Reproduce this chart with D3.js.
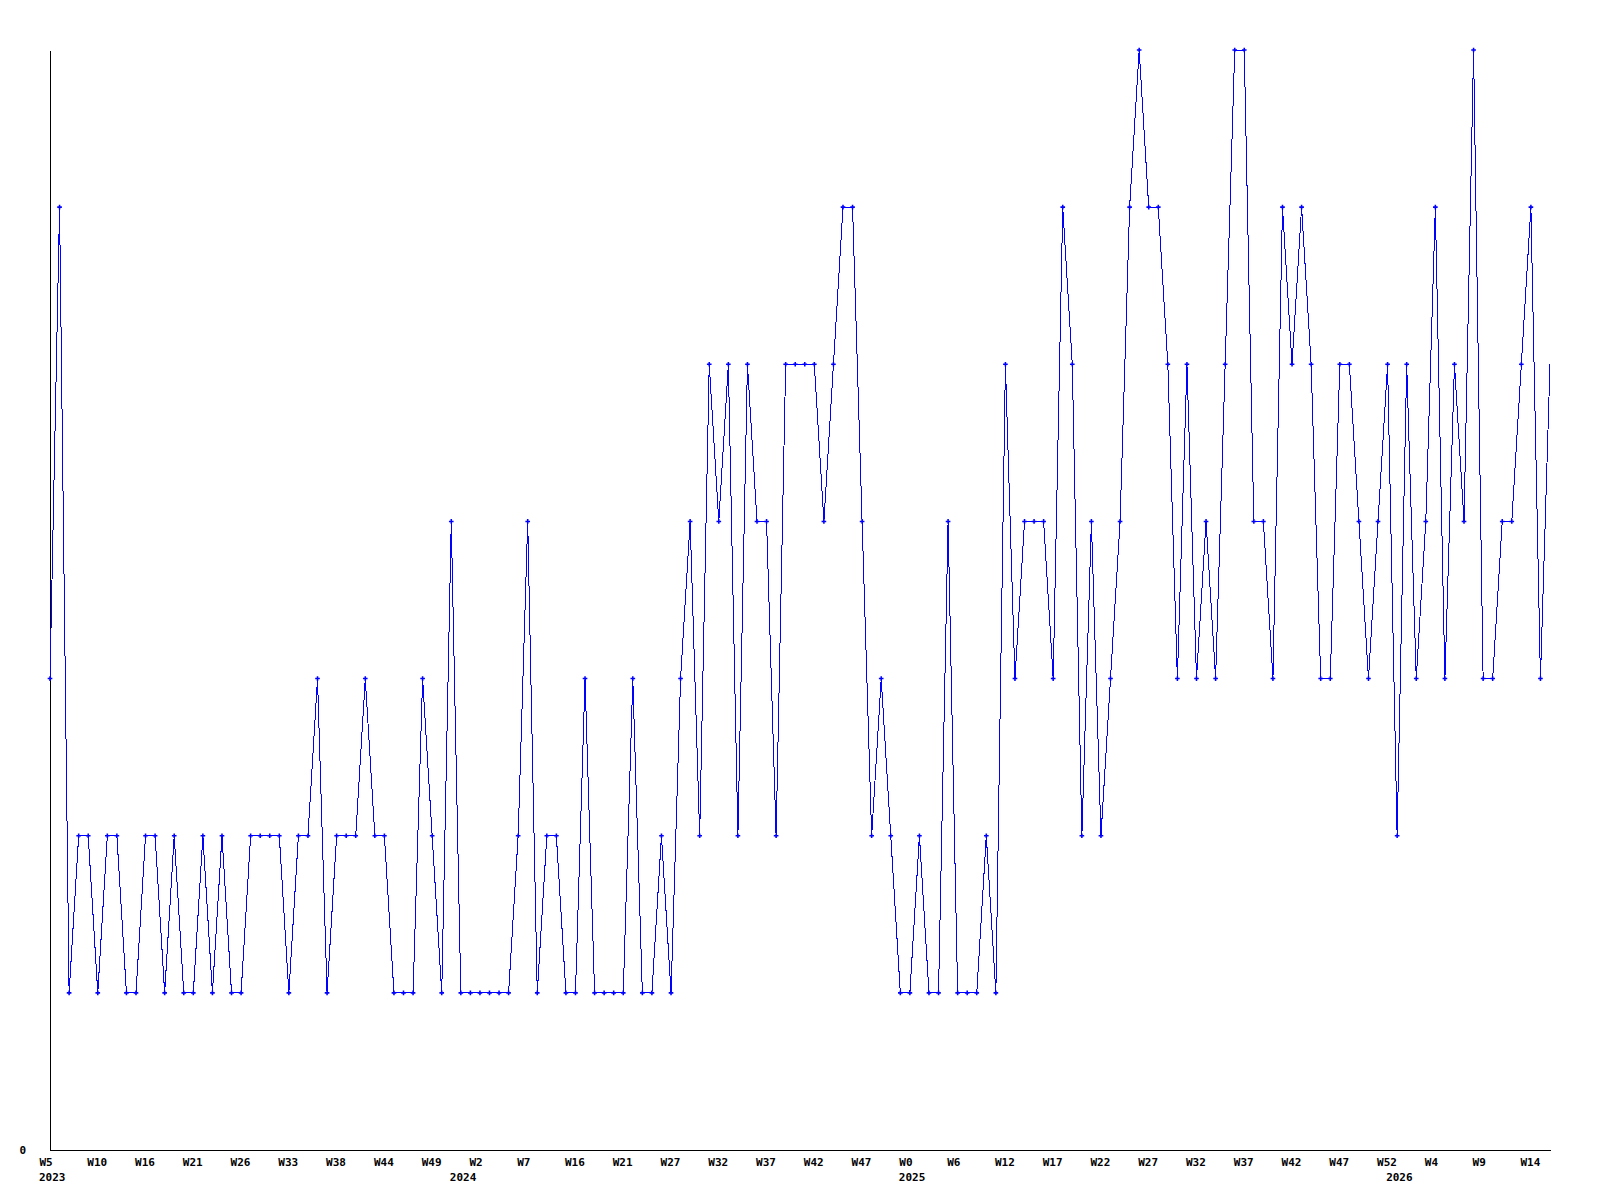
<!DOCTYPE html>
<html>
<head>
<meta charset="utf-8">
<script src="https://cdn.jsdelivr.net/npm/d3@7"></script>
<style>
    body { margin: 0; background: #fff; }
    .lbl { font-family: "DejaVu Sans Mono", monospace; font-size: 11px; font-weight: bold; fill: #000; }
</style>
</head>
<body>
<svg id="chart"></svg>
<script>
// week numbers that have a value, per year
const weeks2023 = [5, 6, 7, 8, 9, 10, 12, 13, 14, 15, 16, 17, 18, 19, 20, 21, 22, 23, 24, 25, 26, 27, 28, 31, 32, 33, 34, 35, 36, 37, 38, 39, 40, 42, 43, 44, 45, 46, 47, 48, 49, 50, 52]
const weeks2024 = [0, 1, 2, 3, 4, 5, 6, 7, 8, 9, 14, 15, 16, 17, 18, 19, 20, 21, 22, 23, 25, 26, 27, 28, 29, 30, 31, 32, 33, 34, 35, 36, 37, 38, 39, 40, 41, 42, 43, 44, 45, 46, 47, 48, 49, 50, 52]
const weeks2025 = [0, 1, 2, 3, 5, 6, 7, 8, 9, 11, 12, 13, 14, 15, 16, 17, 18, 19, 20, 21, 22, 23, 24, 25, 26, 27, 28, 29, 30, 31, 32, 33, 34, 35, 36, 37, 38, 39, 40, 41, 42, 43, 44, 45, 46, 47, 48, 49, 50, 51, 52]
const weeks2026 = [0, 1, 2, 3, 4, 5, 6, 7, 8, 9, 10, 11, 12, 13, 14, 15, 16]
const years = [2023, 2024, 2025, 2026]

// weekly counts, same order as the weeks above
const values = [
    3, 6, 1, 2, 2, 1, 2, 2, 1, 1, 2, 2, 1, 2, 1, 1, 2, 1, 2, 1,
    1, 2, 2, 2, 2, 1, 2, 2, 3, 1, 2, 2, 2, 3, 2, 2, 1, 1, 1, 3,
    2, 1, 4, 1, 1, 1, 1, 1, 1, 2, 4, 1, 2, 2, 1, 1, 3, 1, 1, 1,
    1, 3, 1, 1, 2, 1, 3, 4, 2, 5, 4, 5, 2, 5, 4, 4, 2, 5, 5, 5,
    5, 4, 5, 6, 6, 4, 2, 3, 2, 1, 1, 2, 1, 1, 4, 1, 1, 1, 2, 1,
    5, 3, 4, 4, 4, 3, 6, 5, 2, 4, 2, 3, 4, 6, 7, 6, 6, 5, 3, 5,
    3, 4, 3, 5, 7, 7, 4, 4, 3, 6, 5, 6, 5, 3, 3, 5, 5, 4, 3, 4,
    5, 2, 5, 3, 4, 6, 3, 5, 4, 7, 3, 3, 4, 4, 5, 6, 3, 5
]

const yTicks = [0]
const labelEvery = 5

let width = 1600
let height = 1200

let svg = d3.select("#chart")
    .attr("width", width)
    .attr("height", height)

// flatten year/week into one list of points
let points = []
let weekLists = [weeks2023, weeks2024, weeks2025, weeks2026]
years.forEach(function (yr, k) {
    weekLists[k].forEach(function (w) {
        points.push({year: yr, week: w, value: values[points.length]})
    })
})

let x = d3.scalePoint()
    .domain(d3.range(points.length))
    .range([50, 1550])

let y = d3.scaleLinear()
    .domain([0, 7])
    .range([1150, 50])

// y axis, only the zero is labelled
let yAxis = svg.append("g")
    .attr("transform", "translate(50,0)")
    .call(d3.axisLeft(y).tickValues(yTicks).tickFormat(d3.format("d"))
        .tickSize(0).tickSizeOuter(0).tickPadding(24))
yAxis.select(".domain").attr("stroke", "#000").attr("shape-rendering", "crispEdges")
yAxis.selectAll("text").attr("class", "lbl").attr("font-family", null).attr("font-size", null)

// x axis, every fifth week
let tickIdx = d3.range(0, points.length, labelEvery)
let xAxis = svg.append("g")
    .attr("transform", "translate(0,1150)")
    .call(d3.axisBottom(x).tickValues(tickIdx).tickSize(0).tickSizeOuter(0)
        .tickFormat(function (i) { return "W" + points[i].week }))
xAxis.select(".domain").attr("stroke", "#000").attr("shape-rendering", "crispEdges")
xAxis.selectAll("text")
    .attr("class", "lbl")
    .attr("text-anchor", "start")
    .attr("x", -11)
    .attr("y", 16)
    .attr("dy", null)

// year under the first week of each year
let yearStarts = points.map(function (p, i) { return i }).filter(function (i) {
    return i === 0 || points[i].year !== points[i - 1].year
})
svg.selectAll(".yearLbl")
    .data(yearStarts)
    .enter()
    .append("text")
    .attr("class", "lbl")
    .attr("x", function (i) { return x(i) - 11 })
    .attr("y", 1181)
    .text(function (i) { return points[i].year })

let line = d3.line()
    .x(function (d, i) { return x(i) })
    .y(function (d) { return y(d.value) })

svg.append("path")
    .datum(points)
    .attr("d", line)
    .attr("fill", "none")
    .attr("stroke", "#0000ff")
    .attr("stroke-width", 1)
    .attr("shape-rendering", "crispEdges")

// small crosses on the points (last one has none)
svg.selectAll(".pt")
    .data(points.slice(0, -1))
    .enter()
    .append("path")
    .attr("d", d3.symbol(d3.symbolCross, 12))
    .attr("transform", function (d, i) { return "translate(" + x(i) + "," + y(d.value) + ")" })
    .attr("fill", "#0000ff")
</script>
</body>
</html>
